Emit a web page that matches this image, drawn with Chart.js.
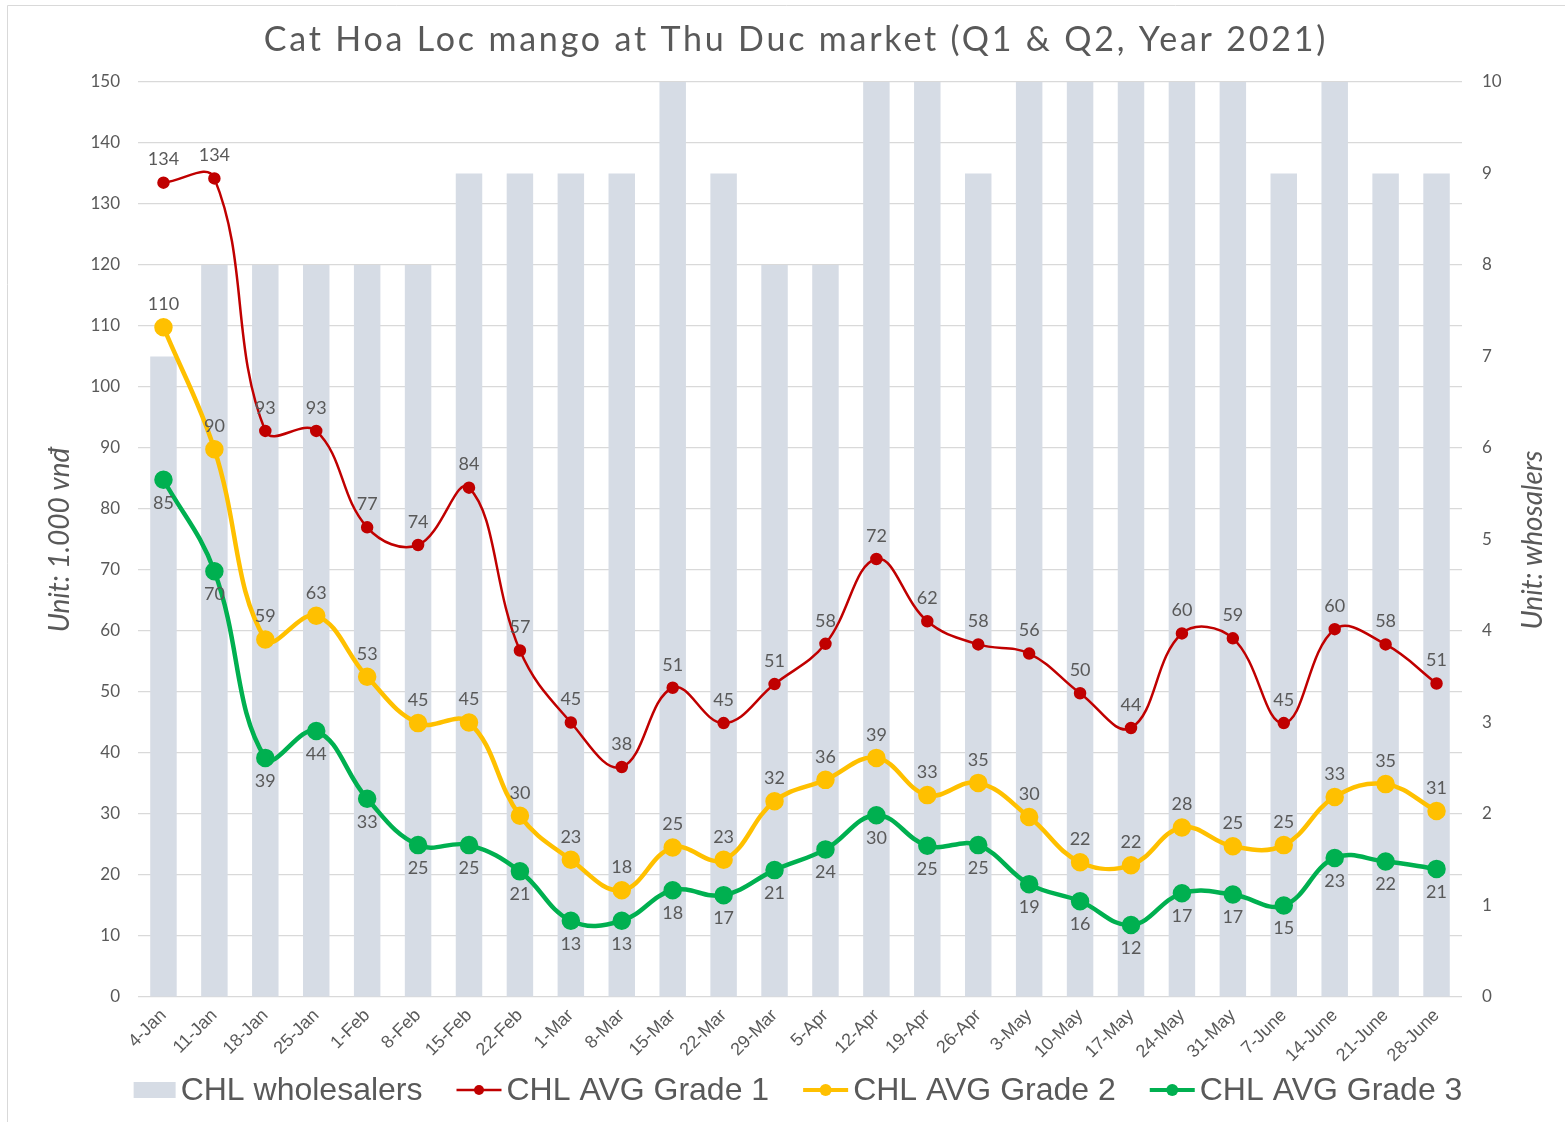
<!DOCTYPE html>
<html>
<head>
<meta charset="utf-8">
<script src="https://cdn.jsdelivr.net/npm/chart.js@4.4.0/dist/chart.umd.min.js"></script>
<style>
html,body{margin:0;padding:0;background:#fff;}
canvas{display:block;}
</style>
</head>
<body>
<canvas id="c" width="1565" height="1122"></canvas>
<script>
const categories = ["4-Jan","11-Jan","18-Jan","25-Jan","1-Feb","8-Feb","15-Feb","22-Feb","1-Mar","8-Mar","15-Mar","22-Mar","29-Mar","5-Apr","12-Apr","19-Apr","26-Apr","3-May","10-May","17-May","24-May","31-May","7-June","14-June","21-June","28-June"];
const wholesalers = [7,8,8,8,8,8,9,9,9,9,10,9,8,8,10,10,9,10,10,10,10,10,9,10,9,9];
const grade1 = [133.5,134.2,92.8,92.8,77,74.1,83.5,56.8,45,37.7,50.7,44.9,51.3,57.9,71.8,61.6,57.8,56.3,49.8,44.1,59.6,58.8,44.9,60.3,57.8,51.4];
const grade2 = [109.8,89.8,58.6,62.5,52.5,44.9,45,29.7,22.5,17.5,24.5,22.5,32.1,35.6,39.2,33.1,35.1,29.5,22.1,21.6,27.8,24.7,24.9,32.8,34.9,30.5];
const grade3 = [84.8,69.8,39.2,43.6,32.5,24.9,24.9,20.6,12.5,12.5,17.5,16.7,20.8,24.2,29.8,24.8,24.9,18.5,15.7,11.8,17,16.8,15,22.8,22.2,21];
const leftTicks = {min:0, max:150, step:10};
const rightTicks = {min:0, max:10, step:1};
const seriesNames = ["CHL wholesalers","CHL AVG Grade 1","CHL AVG Grade 2","CHL AVG Grade 3"];
const titleText = "Cat Hoa Loc mango at Thu Duc market (Q1 & Q2, Year 2021)";
const leftTitle = "Unit: 1.000 vnđ";
const rightTitle = "Unit: whosalers";

const C_BAR = "#d6dce5", C_RED = "#c00000", C_YEL = "#ffc000", C_GRN = "#00b050", C_TXT = "#595959";

function drawIcon(g, type, color, x, cy, lw, r){
  g.save();
  if(type==='bar'){ g.fillStyle=color; g.fillRect(x, cy-8, 42, 16); }
  else {
    g.strokeStyle=color; g.lineWidth=lw; g.beginPath(); g.moveTo(x, cy); g.lineTo(x+45, cy); g.stroke();
    g.fillStyle=color; g.beginPath(); g.arc(x+22.5, cy, r, 0, Math.PI*2); g.fill();
  }
  g.restore();
}
const iconSpec = [['bar',C_BAR,0,0,42],['line',C_RED,2.5,5,45],['line',C_YEL,4,6,45],['line',C_GRN,4,6,45]];

const labelPlugin = {
  id:'labels',
  afterDatasetsDraw(chart){
    const ctx = chart.ctx;
    ctx.save();
    ctx.font = "18px Lato";
    ctx.fillStyle = C_TXT;
    ctx.textAlign = "center";
    ctx.textBaseline = "middle";
    [1,2,3].forEach(di=>{
      const meta = chart.getDatasetMeta(di);
      const ds = chart.data.datasets[di];
      const off = di===3 ? 23 : -23;
      meta.data.forEach((p,i)=>{
        ctx.fillText(String(Math.round(ds.data[i])), p.x, p.y+off);
      });
    });
    ctx.restore();
  },
  afterDraw(chart){
    const ctx = chart.ctx;
    ctx.save();
    ctx.strokeStyle = "#d9d9d9"; ctx.lineWidth = 1;
    ctx.beginPath(); ctx.moveTo(7.5,1122); ctx.lineTo(7.5,5.5); ctx.lineTo(1565,5.5); ctx.stroke();
    ctx.fillStyle = C_TXT;
    ctx.textAlign = "center"; ctx.textBaseline = "middle";
    ctx.font = "34px Lato";
    ctx.letterSpacing = "2.8px";
    ctx.fillText(titleText, 796, 40);
    ctx.letterSpacing = "0px";
    ctx.font = "italic 28px Lato";
    ctx.save(); ctx.translate(60, 540); ctx.rotate(-Math.PI/2); ctx.fillText(leftTitle,0,0); ctx.restore();
    ctx.save(); ctx.translate(1533, 540); ctx.rotate(-Math.PI/2); ctx.fillText(rightTitle,0,0); ctx.restore();
    // legend
    ctx.font = "32px 'Liberation Sans'";
    ctx.textAlign = "left";
    const gapIcon = 5, gapItem = 34;
    const names = chart.data.datasets.map(d=>d.label);
    let total = 0;
    names.forEach((n,i)=>{ total += iconSpec[i][4] + gapIcon + ctx.measureText(n).width; if(i<names.length-1) total += gapItem; });
    let x = 798 - total/2;
    const cy = 1090;
    names.forEach((n,i)=>{
      const s = iconSpec[i];
      drawIcon(ctx, s[0], s[1], x, cy, s[2], s[3]);
      x += s[4] + gapIcon;
      ctx.fillStyle = C_TXT;
      ctx.fillText(n, x, cy+1);
      x += ctx.measureText(n).width + gapItem;
    });
    ctx.restore();
  }
};

new Chart(document.getElementById('c'), {
  data:{
    labels: categories,
    datasets:[
      {type:'bar', label:seriesNames[0], data:wholesalers, yAxisID:'y1', backgroundColor:C_BAR, barPercentage:0.52, categoryPercentage:1, order:10},
      {type:'line', label:seriesNames[1], data:grade1, yAxisID:'y', borderColor:C_RED, backgroundColor:C_RED, borderWidth:2.5, pointRadius:5, pointHoverRadius:5, tension:0.4, order:1},
      {type:'line', label:seriesNames[2], data:grade2, yAxisID:'y', borderColor:C_YEL, backgroundColor:C_YEL, borderWidth:4.5, pointRadius:7, pointHoverRadius:7, tension:0.4, order:2},
      {type:'line', label:seriesNames[3], data:grade3, yAxisID:'y', borderColor:C_GRN, backgroundColor:C_GRN, borderWidth:4.5, pointRadius:7, pointHoverRadius:7, tension:0.4, order:3}
    ]
  },
  options:{
    responsive:false,
    animation:false,
    layout:{padding:{top:82,left:0,right:0,bottom:0}},
    plugins:{
      title:{display:false},
      tooltip:{enabled:false},
      legend:{display:false}
    },
    scales:{
      x:{
        grid:{display:false, drawTicks:false}, border:{display:false},
        ticks:{font:{family:"Liberation Sans", size:18}, color:C_TXT, maxRotation:45, minRotation:45, padding:8, autoSkip:false},
        afterFit(s){ s.height = 125; }
      },
      y:{
        position:'left', min:leftTicks.min, max:leftTicks.max,
        grid:{color:"#d9d9d9", drawTicks:false, lineWidth:1.3}, border:{display:false},
        ticks:{stepSize:leftTicks.step, font:{family:"Lato", size:17}, color:C_TXT, padding:18},
        afterFit(s){ s.width = 138; }
      },
      y1:{
        position:'right', min:rightTicks.min, max:rightTicks.max,
        grid:{drawOnChartArea:false, drawTicks:false}, border:{display:false},
        ticks:{stepSize:rightTicks.step, font:{family:"Lato", size:17}, color:C_TXT, padding:20},
        afterFit(s){ s.width = 103; }
      }
    }
  },
  plugins:[labelPlugin]
});
</script>
</body>
</html>
